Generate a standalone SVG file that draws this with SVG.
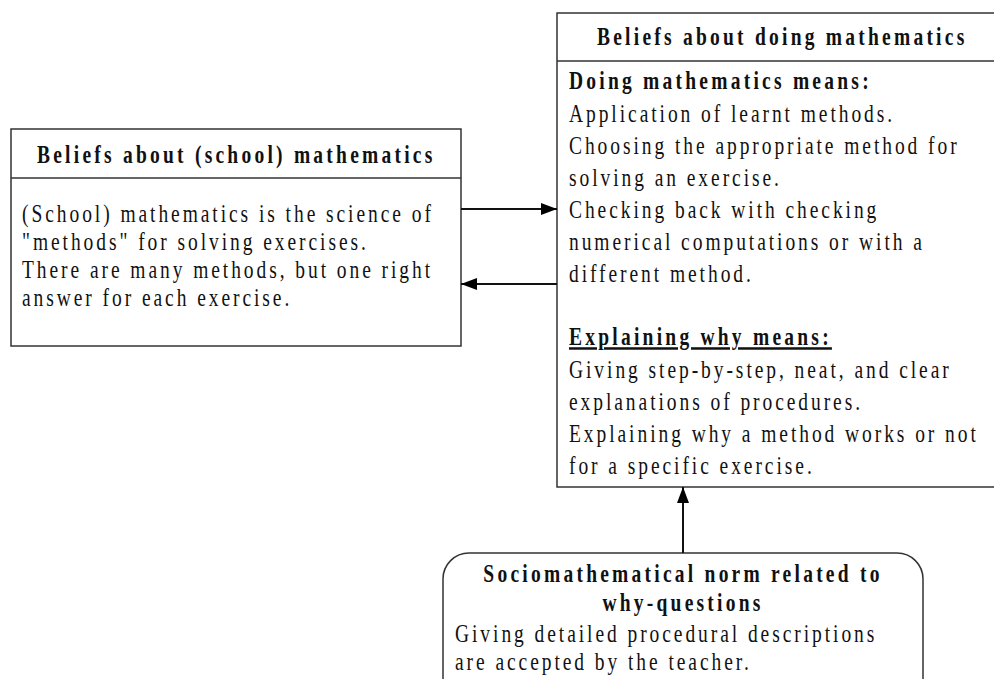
<svg xmlns="http://www.w3.org/2000/svg" width="994" height="679" viewBox="0 0 994 679">
<defs>
<marker id="ah" viewBox="0 0 16 12" refX="16" refY="6" markerWidth="16" markerHeight="12" markerUnits="userSpaceOnUse" orient="auto">
<path d="M0,0 L16,6 L0,12 Z" fill="#000"/>
</marker>
<style>
.box{fill:#fff;stroke:#333;stroke-width:1.5}
.t{font-family:"Liberation Serif","Times New Roman",serif;font-size:25px;letter-spacing:3.76px;fill:#111}
.b{font-weight:bold;letter-spacing:4.15px}
.c{stroke:#111;stroke-width:2;fill:none}
</style>
</defs>
<rect width="994" height="679" fill="#fff"/>
<g id="school-beliefs">
<rect class="box" x="11" y="129" width="450" height="217"/>
<line class="box" x1="11" y1="178" x2="461" y2="178"/>
<text class="t b" transform="translate(37,163) scale(0.78,1)">Beliefs about (school) mathematics</text>
<text class="t" transform="translate(22,222) scale(0.78,1)">(School) mathematics is the science of</text>
<text class="t" transform="translate(22,250) scale(0.78,1)">"methods" for solving exercises.</text>
<text class="t" transform="translate(22,278) scale(0.78,1)">There are many methods, but one right</text>
<text class="t" transform="translate(22,306) scale(0.78,1)">answer for each exercise.</text>
</g>
<g id="doing-beliefs">
<rect class="box" x="557" y="13" width="460" height="474"/>
<line class="box" x1="557" y1="61" x2="1017" y2="61"/>
<text class="t b" transform="translate(597,45) scale(0.78,1)">Beliefs about doing mathematics</text>
<text class="t b" transform="translate(569,89) scale(0.78,1)">Doing mathematics means:</text>
<text class="t" transform="translate(569,122) scale(0.78,1)">Application of learnt methods.</text>
<text class="t" transform="translate(569,154) scale(0.78,1)">Choosing the appropriate method for</text>
<text class="t" transform="translate(569,186) scale(0.78,1)">solving an exercise.</text>
<text class="t" transform="translate(569,218) scale(0.78,1)">Checking back with checking</text>
<text class="t" transform="translate(569,250) scale(0.78,1)">numerical computations or with a</text>
<text class="t" transform="translate(569,282) scale(0.78,1)">different method.</text>
<text class="t b" transform="translate(569,345) scale(0.78,1)" text-decoration="underline">Explaining why means:</text>
<text class="t" transform="translate(569,378) scale(0.78,1)">Giving step-by-step, neat, and clear</text>
<text class="t" transform="translate(569,410) scale(0.78,1)">explanations of procedures.</text>
<text class="t" transform="translate(569,442) scale(0.78,1)">Explaining why a method works or not</text>
<text class="t" transform="translate(569,474) scale(0.78,1)">for a specific exercise.</text>
</g>
<g id="norm">
<rect class="box" x="443" y="553" width="480" height="160" rx="26" ry="26"/>
<text class="t b" transform="translate(683,582) scale(0.78,1)" text-anchor="middle">Sociomathematical norm related to</text>
<text class="t b" transform="translate(683,611) scale(0.78,1)" text-anchor="middle">why-questions</text>
<text class="t" transform="translate(455,642) scale(0.78,1)">Giving detailed procedural descriptions</text>
<text class="t" transform="translate(455,670) scale(0.78,1)">are accepted by the teacher.</text>
</g>
<g id="connectors">
<line class="c" x1="461" y1="209" x2="557" y2="209" marker-end="url(#ah)"/>
<line class="c" x1="557" y1="284" x2="461" y2="284" marker-end="url(#ah)"/>
<line class="c" x1="683" y1="553" x2="683" y2="487" marker-end="url(#ah)"/>
</g>
</svg>
